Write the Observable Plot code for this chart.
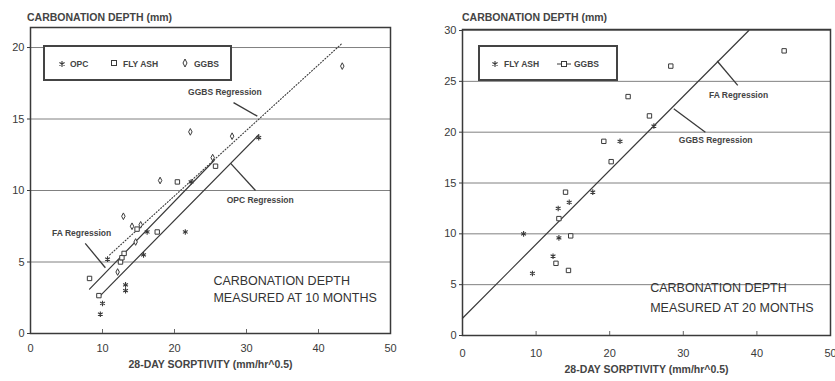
<!DOCTYPE html>
<html><head><meta charset="utf-8">
<script src="https://cdn.jsdelivr.net/npm/d3@7"></script>
<script src="https://cdn.jsdelivr.net/npm/@observablehq/plot@0.6"></script>
<style>
body{margin:0;background:#fff;width:835px;height:381px;overflow:hidden;position:relative;font-family:"Liberation Sans",Arial,sans-serif;color:#333}
.panel{position:absolute;top:0}
.ytitle{position:absolute;font-size:10.5px;font-weight:bold;color:#444;white-space:nowrap}
.legend{position:absolute;border:2px solid #444;background:#fff;box-sizing:border-box}
.legend span{position:absolute;font-size:8.5px;font-weight:bold;color:#444;white-space:nowrap}
.legend svg{position:absolute;overflow:visible}
</style>
</head><body>
<div id="left" class="panel" style="left:0"></div>
<div id="right" class="panel" style="left:415px"></div>
<script>
// ---------- Left panel data (10 months) ----------
const opcX  = [9.7, 10.0, 10.7, 13.2, 13.2, 15.7, 16.2, 21.5, 22.3, 31.7];
const opcY  = [1.35, 2.1, 5.2, 3.0, 3.4, 5.5, 7.1, 7.1, 10.6, 13.7];
const faX   = [8.2, 9.5, 12.5, 12.7, 13.0, 14.8, 17.6, 20.4, 25.7];
const faY   = [3.85, 2.65, 5.0, 5.3, 5.6, 7.3, 7.1, 10.6, 11.7];
const ggbsX = [12.1, 12.9, 14.1, 14.6, 15.3, 18.0, 22.2, 25.3, 28.0, 43.3];
const ggbsY = [4.3, 8.2, 7.5, 6.4, 7.6, 10.7, 14.1, 12.3, 13.8, 18.7];
// regression endpoints [x1, y1, x2, y2]
const opcReg  = [9.7, 2.65, 31.7, 13.9];
const faReg   = [8.2, 3.1, 25.5, 12.1];
const ggbsReg = [11.0, 5.5, 43.3, 20.3];
// callouts: label, text x, text y, leader x1,y1,x2,y2
const leftLabels  = ["GGBS Regression", "OPC Regression", "FA Regression"];
const leftLabelX  = [27.0, 31.9, 7.1];
const leftLabelY  = [16.85, 9.3, 7.0];
const leftLeadX1  = [28.2, 27.8, 7.6];
const leftLeadY1  = [16.15, 11.9, 6.3];
const leftLeadX2  = [31.5, 31.25, 10.4];
const leftLeadY2  = [15.2, 10.0, 4.6];
const leftNote = ["CARBONATION DEPTH", "MEASURED AT 10 MONTHS"];
const leftNoteX = [25.4, 25.4];
const leftNoteY = [3.7, 2.45];

// ---------- Right panel data (20 months) ----------
const rFaX   = [8.3, 9.5, 12.3, 13.0, 13.1, 14.5, 17.7, 21.4, 26.0];
const rFaY   = [10.0, 6.1, 7.8, 12.5, 9.6, 13.1, 14.1, 19.1, 20.6];
const rGgbsX = [12.7, 14.4, 14.7, 13.1, 14.0, 20.2, 19.2, 25.4, 22.5, 28.3, 43.7];
const rGgbsY = [7.1, 6.4, 9.8, 11.5, 14.1, 17.1, 19.1, 21.6, 23.5, 26.5, 28.0];
const rReg = [0, 1.7, 38.9, 30.0];
const rightLabels = ["FA Regression", "GGBS Regression"];
const rightLabelX = [37.5, 34.4];
const rightLabelY = [23.6, 19.2];
const rightLeadX1 = [34.6, 28.7];
const rightLeadY1 = [27.0, 22.3];
const rightLeadX2 = [37.4, 33.0];
const rightLeadY2 = [24.6, 20.0];
const rightNote = ["CARBONATION DEPTH", "MEASURED AT 20 MONTHS"];
const rightNoteX = [25.5, 25.5];
const rightNoteY = [4.7, 2.75];

const xTicks = [0, 10, 20, 30, 40, 50];
const xTitle = "28-DAY SORPTIVITY (mm/hr^0.5)";
const yTitle = "CARBONATION DEPTH (mm)";

const ink = "#3a3a3a";
const font = '"Liberation Sans",Arial,sans-serif';
const tallDiamond = {draw(ctx, size){ const r = Math.sqrt(size)/2; ctx.moveTo(0,-r*1.45); ctx.lineTo(r*0.75,0); ctx.lineTo(0,r*1.45); ctx.lineTo(-r*0.75,0); ctx.closePath(); }};

const pts = (xs, ys) => xs.map((x, i) => ({x, y: ys[i]}));
const seg = r => [{x: r[0], y: r[1]}, {x: r[2], y: r[3]}];
const labs = (t, xs, ys) => t.map((s, i) => ({s, x: xs[i], y: ys[i]}));
const leads = (a, b, c, d) => a.map((_, i) => ({x1: a[i], y1: b[i], x2: c[i], y2: d[i]}));

function panel({width, ml, mr, mt, mb, ymax, yTicks, tickPad, labelOff, series, regs, labels, leaders, note}) {
  return Plot.plot({
    width, height: 381, marginLeft: ml, marginRight: mr, marginTop: mt, marginBottom: mb,
    x: {domain: [0, 50]},
    y: {domain: [0, ymax]},
    style: {fontFamily: font, color: ink, background: "transparent", overflow: "visible"},
    marks: [
      Plot.gridY(yTicks.filter(d => d > 0), {stroke: "#555", strokeOpacity: 0.75, strokeWidth: 1}),
      Plot.frame({stroke: ink, strokeWidth: 1.5}),
      Plot.axisY({ticks: yTicks, tickSize: 3, tickPadding: 3, label: null, fontSize: 11, stroke: ink}),
      Plot.axisX({ticks: xTicks, tickSize: 0, tickPadding: tickPad, fontSize: 11, label: null}),
      Plot.axisX({ticks: xTicks.slice(1, -1), tickSize: -4, text: null, label: null, stroke: "#666"}),
      Plot.text([xTitle], {frameAnchor: "bottom", dy: labelOff, fontSize: 10.5, fontWeight: "bold", fill: "#444"}),
      ...regs,
      Plot.link(leaders, {x1: "x1", y1: "y1", x2: "x2", y2: "y2", stroke: ink, strokeWidth: 1.3}),
      Plot.text(labels, {x: "x", y: "y", text: "s", fontSize: 8.5, fontWeight: "bold", fill: "#444"}),
      Plot.text(note, {x: "x", y: "y", text: "s", textAnchor: "start", fontSize: 12.5, fill: "#333"}),
      ...series
    ]
  });
}

const leftChart = panel({
  width: 415, ml: 30, mr: 25, mt: 27, mb: 48, ymax: 21.4, yTicks: [0, 5, 10, 15, 20],
  tickPad: 11, labelOff: 34,
  regs: [
    Plot.line(seg(ggbsReg), {x: "x", y: "y", stroke: ink, strokeWidth: 1.1, strokeDasharray: "1,2"}),
    Plot.line(seg(faReg), {x: "x", y: "y", stroke: ink, strokeWidth: 1.2}),
    Plot.line(seg(opcReg), {x: "x", y: "y", stroke: ink, strokeWidth: 1.2})
  ],
  series: [
    Plot.dot(pts(opcX, opcY), {x: "x", y: "y", symbol: "asterisk", r: 2.6, stroke: ink, strokeWidth: 1.1}),
    Plot.dot(pts(faX, faY), {x: "x", y: "y", symbol: "square2", r: 2.8, fill: "white", stroke: ink, strokeWidth: 1}),
    Plot.dot(pts(ggbsX, ggbsY), {x: "x", y: "y", symbol: tallDiamond, r: 2.6, fill: "white", stroke: ink, strokeWidth: 1})
  ],
  labels: labs(leftLabels, leftLabelX, leftLabelY),
  leaders: leads(leftLeadX1, leftLeadY1, leftLeadX2, leftLeadY2),
  note: labs(leftNote, leftNoteX, leftNoteY)
});
document.getElementById("left").append(leftChart);

const rightChart = panel({
  width: 420, ml: 47, mr: 5, mt: 29, mb: 46, ymax: 30.1, yTicks: [0, 5, 10, 15, 20, 25, 30],
  tickPad: 14, labelOff: 37,
  regs: [
    Plot.line(seg(rReg), {x: "x", y: "y", stroke: ink, strokeWidth: 1.2})
  ],
  series: [
    Plot.dot(pts(rFaX, rFaY), {x: "x", y: "y", symbol: "asterisk", r: 2.6, stroke: ink, strokeWidth: 1.1}),
    Plot.dot(pts(rGgbsX, rGgbsY), {x: "x", y: "y", symbol: "square2", r: 2.8, fill: "white", stroke: ink, strokeWidth: 1})
  ],
  labels: labs(rightLabels, rightLabelX, rightLabelY),
  leaders: leads(rightLeadX1, rightLeadY1, rightLeadX2, rightLeadY2),
  note: labs(rightNote, rightNoteX, rightNoteY)
});
document.getElementById("right").append(rightChart);

// titles and legends (HTML overlays)
function addDiv(cls, style, html) {
  const d = document.createElement("div"); d.className = cls; d.setAttribute("style", style); d.innerHTML = html;
  document.body.append(d); return d;
}
addDiv("ytitle", "left:27px;top:11px", yTitle);
addDiv("ytitle", "left:462px;top:11px", yTitle);

const star = `<path d="M0,-3V3M-2.6,-1.5L2.6,1.5M-2.6,1.5L2.6,-1.5" stroke="${ink}" stroke-width="1.1" fill="none"/>`;
const sq = `<rect x="-2.5" y="-2.5" width="5" height="5" fill="white" stroke="${ink}" stroke-width="1"/>`;
const dia = `<path d="M0,-4L2,0L0,4L-2,0Z" fill="white" stroke="${ink}" stroke-width="1"/>`;
const sqLine = `<path d="M-7,0H7" stroke="${ink}" stroke-width="1"/>` + sq;

addDiv("legend", "left:43px;top:45px;width:189px;height:36px",
  `<svg style="left:17px;top:17px" width="1" height="1">${star}</svg><span style="left:25px;top:12px">OPC</span>` +
  `<svg style="left:69px;top:16px" width="1" height="1">${sq}</svg><span style="left:78px;top:12px">FLY ASH</span>` +
  `<svg style="left:140px;top:16px" width="1" height="1">${dia}</svg><span style="left:149px;top:12px">GGBS</span>`);
addDiv("legend", "left:478px;top:45px;width:140px;height:36px",
  `<svg style="left:15px;top:17px" width="1" height="1">${star}</svg><span style="left:24px;top:12px">FLY ASH</span>` +
  `<svg style="left:84px;top:17px" width="1" height="1">${sqLine}</svg><span style="left:94px;top:12px">GGBS</span>`);
</script>
</body></html>
